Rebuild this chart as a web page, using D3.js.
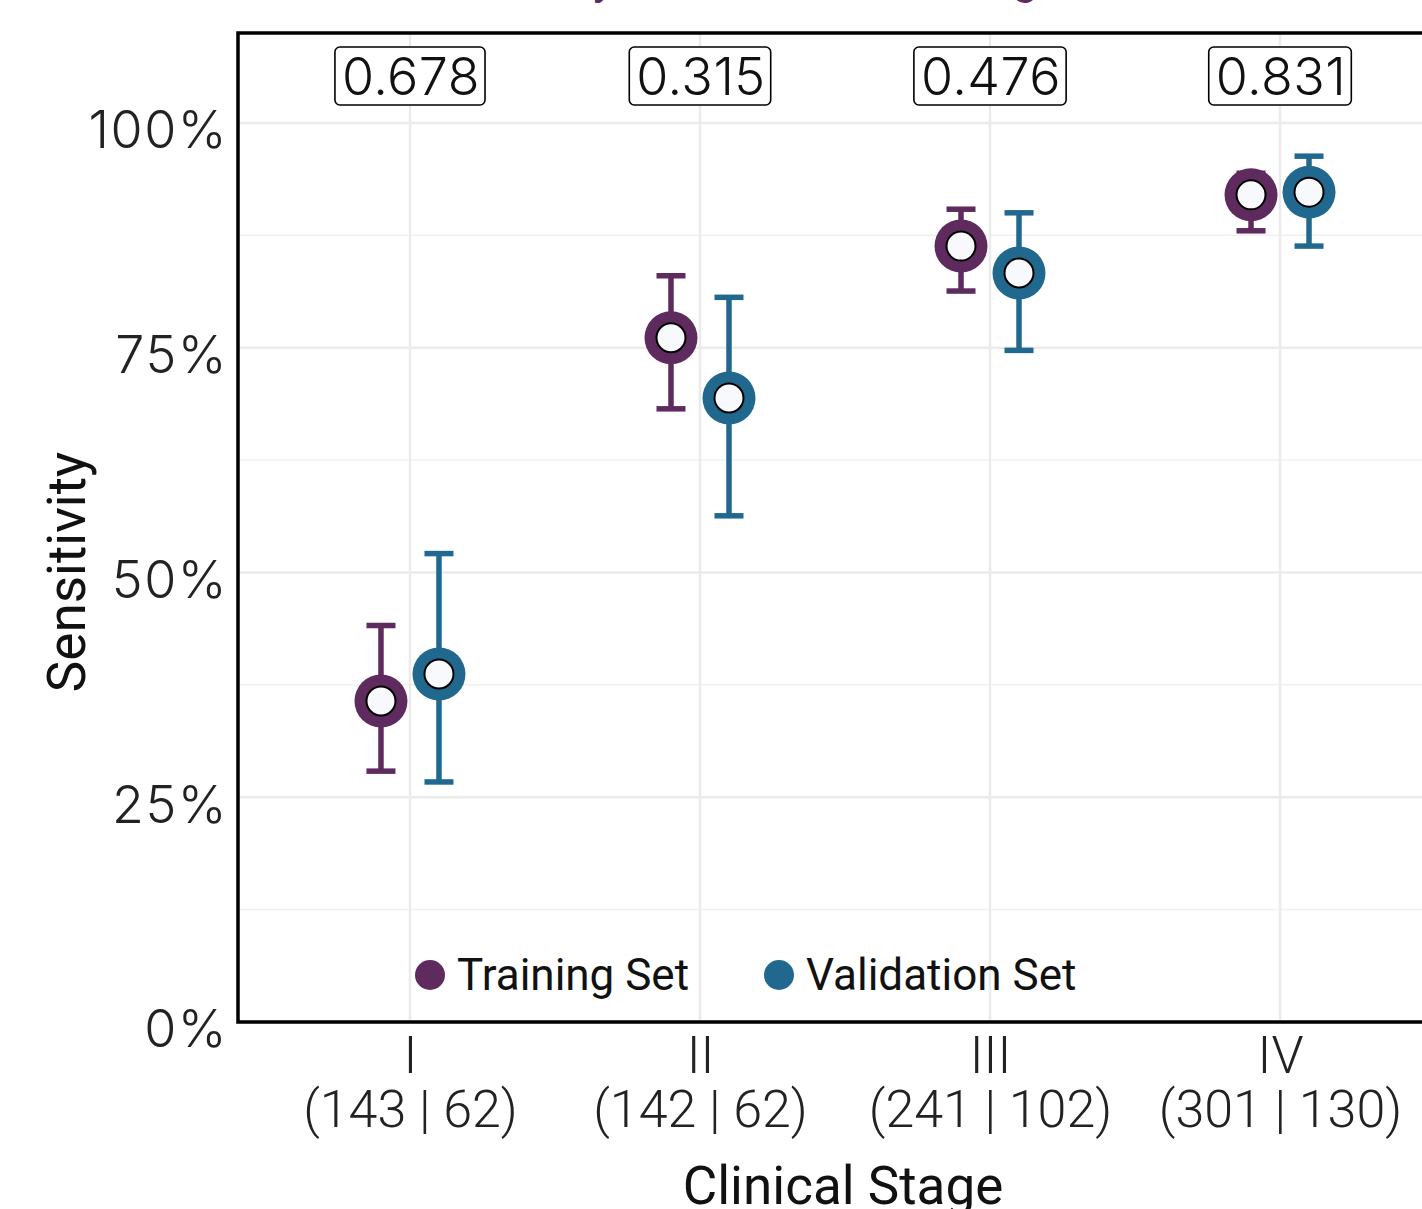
<!DOCTYPE html>
<html>
<head>
<meta charset="utf-8">
<script src="https://cdn.jsdelivr.net/npm/d3@7"></script>
<style>
  html, body { margin: 0; padding: 0; background: #fff; }
  svg { display: block; }
</style>
</head>
<body>
<svg id="chart" width="1422" height="1209"></svg>
<script>
// Clinical stages and sample counts (training | validation)
const stages = ["I", "II", "III", "IV"];
const trainN = [143, 142, 241, 301];
const validN = [62, 62, 102, 130];

// Sensitivity point estimates and 95% confidence limits
const trainSens = [0.357, 0.761, 0.863, 0.920];
const trainLow  = [0.279, 0.682, 0.813, 0.880];
const trainHigh = [0.441, 0.830, 0.904, 0.944];

const validSens = [0.387, 0.694, 0.833, 0.923];
const validLow  = [0.267, 0.563, 0.747, 0.863];
const validHigh = [0.521, 0.806, 0.900, 0.963];

// p-values comparing the two sets within each stage
const pValues = ["0.678", "0.315", "0.476", "0.831"];

const seriesNames = ["Training Set", "Validation Set"];
const seriesColors = ["#5f2a5e", "#21688f"];

const yTicks = [0, 0.25, 0.5, 0.75, 1.0];
const yMinor = [0.125, 0.375, 0.625, 0.875];

const svg = d3.select("#chart");
const panel = { left: 238, top: 33, right: 1452, bottom: 1022 };

const x = d3.scalePoint().domain(stages).range([panel.left, panel.right]).padding(0.593);
const dodge = d3.scalePoint().domain(seriesNames).range([-29, 29]);
const y = d3.scaleLinear().domain([0, 1.1]).range([panel.bottom, panel.top]);
const color = d3.scaleOrdinal().domain(seriesNames).range(seriesColors);

const labelFont = "Roboto, 'Liberation Sans', sans-serif";
const tickFont = "Inter, 'DejaVu Sans', sans-serif";

// Title (sits mostly above the visible area)
svg.append("text")
  .attr("x", 745).attr("y", -6)
  .attr("text-anchor", "middle")
  .attr("font-family", labelFont)
  .attr("font-size", 47)
  .attr("fill", "#5f2a5e")
  .text("Sensitivity across Clinical Stages");

const g = svg.append("g");

// grid
g.selectAll(".minor").data(yMinor).join("line")
  .attr("x1", panel.left).attr("x2", panel.right)
  .attr("y1", d => y(d)).attr("y2", d => y(d))
  .attr("stroke", "#f0f0f0").attr("stroke-width", 1.5);
g.selectAll(".major").data(yTicks).join("line")
  .attr("x1", panel.left).attr("x2", panel.right)
  .attr("y1", d => y(d)).attr("y2", d => y(d))
  .attr("stroke", "#ebebeb").attr("stroke-width", 2.5);
g.selectAll(".vgrid").data(stages).join("line")
  .attr("x1", d => x(d)).attr("x2", d => x(d))
  .attr("y1", panel.top).attr("y2", panel.bottom)
  .attr("stroke", "#ebebeb").attr("stroke-width", 2.5);

// y axis labels
const yAxis = d3.axisLeft(y).tickValues(yTicks).tickSize(0).tickPadding(10)
  .tickFormat(d3.format(".0%"));
const yg = svg.append("g").attr("transform", `translate(${panel.left},0)`).call(yAxis);
yg.select(".domain").remove();
yg.selectAll("text")
  .attr("dy", "0.48em")
  .attr("font-family", tickFont).attr("font-weight", 300)
  .attr("font-size", 52).attr("letter-spacing", 1.5).attr("fill", "#222");

// x axis labels: stage numeral and, below it, the two sample counts
const xAxis = d3.axisBottom(x).tickSize(0).tickFormat("");
const xg = svg.append("g").attr("transform", `translate(0,${panel.bottom})`).call(xAxis);
xg.select(".domain").remove();
xg.selectAll(".tick").each(function(d, i) {
  const tick = d3.select(this);
  tick.append("text")
    .attr("text-anchor", "middle").attr("y", 51)
    .attr("font-family", labelFont).attr("font-weight", 300)
    .attr("font-size", 52).attr("fill", "#222")
    .text(d);
  tick.append("text")
    .attr("text-anchor", "middle").attr("y", 105)
    .attr("font-family", labelFont).attr("font-weight", 300)
    .attr("font-size", 52).attr("fill", "#222")
    .text(`(${trainN[i]} | ${validN[i]})`);
});

// axis titles
svg.append("text")
  .attr("x", 843).attr("y", 1204)
  .attr("text-anchor", "middle")
  .attr("font-family", labelFont).attr("font-size", 53).attr("fill", "#111")
  .text("Clinical Stage");
svg.append("text")
  .attr("transform", `translate(85,${572}) rotate(-90)`)
  .attr("text-anchor", "middle")
  .attr("font-family", labelFont).attr("font-size", 53).attr("fill", "#111")
  .text("Sensitivity");

// assemble point data
const rows = [];
stages.forEach((s, i) => {
  rows.push({ stage: s, series: seriesNames[0], est: trainSens[i], lo: trainLow[i], hi: trainHigh[i] });
  rows.push({ stage: s, series: seriesNames[1], est: validSens[i], lo: validLow[i], hi: validHigh[i] });
});
const px = d => x(d.stage) + dodge(d.series);

// error bars
const eb = g.selectAll(".eb").data(rows).join("g")
  .attr("stroke", d => color(d.series)).attr("stroke-width", 5.5);
eb.append("line")
  .attr("x1", px).attr("x2", px)
  .attr("y1", d => y(d.lo)).attr("y2", d => y(d.hi));
eb.append("line")
  .attr("x1", d => px(d) - 14.5).attr("x2", d => px(d) + 14.5)
  .attr("y1", d => y(d.lo)).attr("y2", d => y(d.lo));
eb.append("line")
  .attr("x1", d => px(d) - 14.5).attr("x2", d => px(d) + 14.5)
  .attr("y1", d => y(d.hi)).attr("y2", d => y(d.hi));

// points: coloured disc with white centre
g.selectAll(".outer").data(rows).join("circle")
  .attr("cx", px).attr("cy", d => y(d.est)).attr("r", 26.5)
  .attr("fill", d => color(d.series));
g.selectAll(".inner").data(rows).join("circle")
  .attr("cx", px).attr("cy", d => y(d.est)).attr("r", 14.5)
  .attr("fill", "#f7f9fc").attr("stroke", "#000").attr("stroke-width", 2);

// p-value boxes
const pv = svg.append("g").selectAll("g").data(stages).join("g")
  .attr("transform", d => `translate(${x(d) + 1},76)`);
pv.each(function(d, i) {
  const sel = d3.select(this);
  const t = sel.append("text")
    .attr("text-anchor", "middle").attr("dy", "0.36em")
    .attr("font-family", tickFont).attr("font-weight", 300)
    .attr("font-size", 52).attr("letter-spacing", 0.5).attr("fill", "#111")
    .text(pValues[i]);
  const bb = t.node().getBBox();
  sel.insert("rect", "text")
    .attr("x", bb.x - 7).attr("y", -29)
    .attr("width", bb.width + 12).attr("height", 58)
    .attr("rx", 5).attr("fill", "#fff")
    .attr("stroke", "#000").attr("stroke-width", 1.6);
});

// legend
const legendX = [430, 779];
const lg = svg.append("g").selectAll("g").data(seriesNames).join("g")
  .attr("transform", (d, i) => `translate(${legendX[i]},975)`);
lg.append("circle").attr("r", 15).attr("fill", d => color(d));
lg.append("text")
  .attr("x", 27).attr("dy", "0.35em")
  .attr("font-family", labelFont).attr("font-size", 44).attr("fill", "#111")
  .text(d => d);

// panel frame
svg.append("rect")
  .attr("x", panel.left).attr("y", panel.top)
  .attr("width", panel.right - panel.left).attr("height", panel.bottom - panel.top)
  .attr("fill", "none").attr("stroke", "#000").attr("stroke-width", 3.5);
</script>
</body>
</html>
